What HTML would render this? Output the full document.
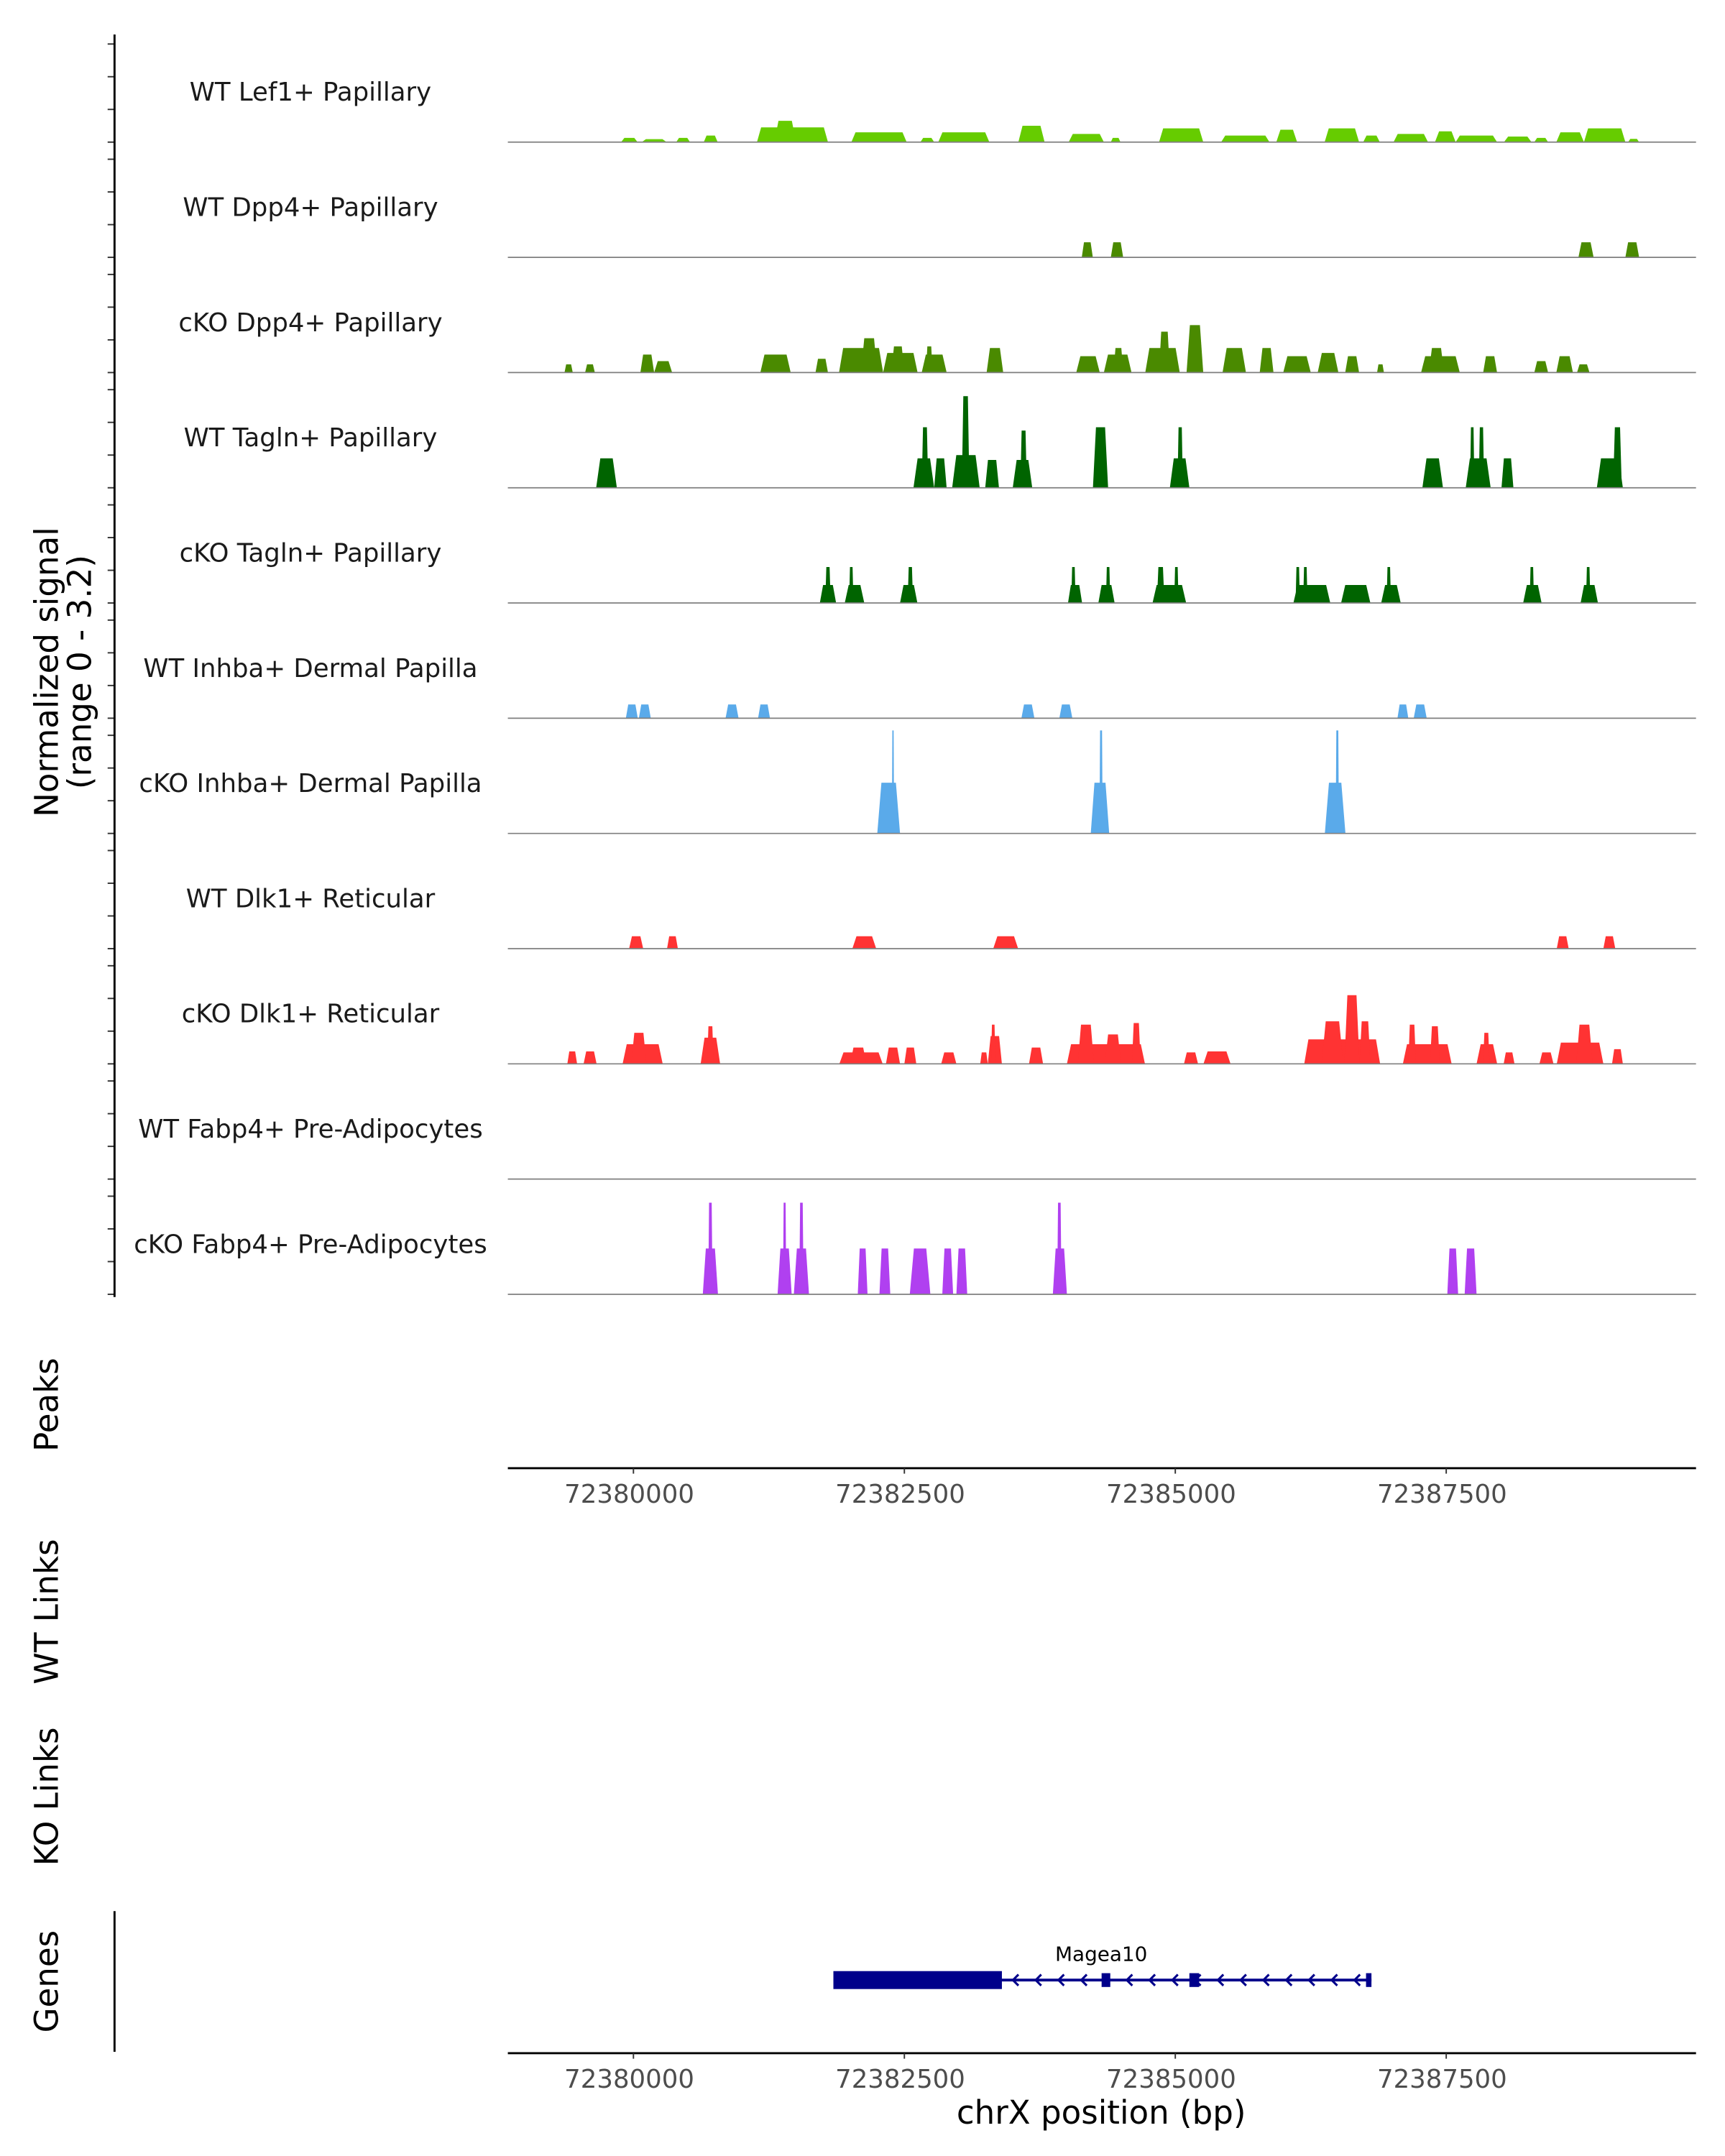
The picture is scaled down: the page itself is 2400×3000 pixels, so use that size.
<!DOCTYPE html>
<html><head><meta charset="utf-8"><style>html,body{margin:0;padding:0;background:#fff}svg{display:block}</style></head>
<body>
<svg id="chart" xmlns="http://www.w3.org/2000/svg" width="2400" height="3000" viewBox="0 0 1250 1562.5" font-family="'DejaVu Sans','Liberation Sans',sans-serif">
<rect width="1250" height="1562.5" fill="#fff"/>
<g id="tracks"></g>
<g id="axes"></g>
</svg>
<script>
const trackNames = ["WT Lef1+ Papillary","WT Dpp4+ Papillary","cKO Dpp4+ Papillary","WT Tagln+ Papillary","cKO Tagln+ Papillary","WT Inhba+ Dermal Papilla","cKO Inhba+ Dermal Papilla","WT Dlk1+ Reticular","cKO Dlk1+ Reticular","WT Fabp4+ Pre-Adipocytes","cKO Fabp4+ Pre-Adipocytes"];
const trackColors = ["#66cc00","#4a8a00","#4a8a00","#006400","#006400","#5aaaea","#5aaaea","#ff3333","#ff3333","#b040f0","#b040f0"];
const xTicks = [72380000,72382500,72385000,72387500];
const xDomain = [72378841,72389805];
const yMax = 3.2;
const sigLef1 = [[72379886,72380038,.13],[72380077,72380306,.09],[72380395,72380522,.13],[72380649,72380777,.2],[72381140,72381795,.45],[72381300,72381500,.65],[72382011,72382521,.3],[72382648,72382775,.13],[72382813,72383284,.3],[72383552,72383794,.5],[72384016,72384341,.25],[72384405,72384494,.13],[72384850,72385258,.42],[72385423,72385869,.2],[72385932,72386124,.38],[72386378,72386696,.42],[72386734,72386887,.2],[72387014,72387332,.25],[72387396,72387587,.33],[72387587,72387969,.2],[72388033,72388287,.17],[72388313,72388440,.13],[72388516,72388771,.3],[72388771,72389153,.42],[72389178,72389280,.1]];
const sigWtDpp4 = [[72384137,72384239,.46],[72384405,72384519,.46],[72388720,72388860,.46],[72389153,72389280,.46]];
const sigKoDpp4 = [[72379364,72379440,.25],[72379554,72379644,.25],[72380064,72380191,.55],[72380191,72380357,.35],[72381171,72381451,.55],[72381680,72381795,.42],[72381897,72382304,.75],[72382100,72382250,1.05],[72382304,72382622,.6],[72382380,72382500,.8],[72382660,72382890,.55],[72382700,72382760,.8],[72383259,72383412,.75],[72384086,72384303,.5],[72384341,72384596,.55],[72384430,72384520,.75],[72384723,72385041,.75],[72384850,72384950,1.25],[72385104,72385258,1.45],[72385436,72385652,.75],[72385779,72385906,.75],[72385996,72386250,.5],[72386314,72386505,.6],[72386568,72386696,.5],[72386862,72386925,.25],[72387268,72387625,.5],[72387340,72387480,.75],[72387841,72387969,.5],[72388313,72388440,.35],[72388516,72388669,.5],[72388707,72388822,.25]];
const sigWtTagln = [[72379656,72379847,.9],[72382584,72382775,.9],[72382660,72382720,1.85],[72382775,72382890,.9],[72382941,72383195,1.0],[72383030,72383100,2.8],[72383246,72383373,.85],[72383500,72383680,.85],[72383570,72383630,1.75],[72384240,72384380,1.85],[72384950,72385130,.9],[72385020,72385070,1.85],[72387280,72387470,.9],[72387680,72387910,.9],[72387720,72387760,1.85],[72387800,72387850,1.85],[72388010,72388120,.9],[72388890,72389130,.9],[72389040,72389120,1.85]];
const sigKoTagln = [[72381720,72381870,.55],[72381770,72381820,1.1],[72381950,72382130,.55],[72381990,72382030,1.1],[72382460,72382620,.55],[72382530,72382580,1.1],[72384010,72384140,.55],[72384040,72384080,1.1],[72384290,72384440,.55],[72384360,72384400,1.1],[72384790,72385100,.55],[72384830,72384900,1.1],[72384990,72385030,1.1],[72386090,72386430,.55],[72386110,72386150,1.1],[72386180,72386220,1.1],[72386530,72386800,.55],[72386900,72387080,.55],[72386950,72386990,1.1],[72388210,72388380,.55],[72388270,72388310,1.1],[72388740,72388900,.55],[72388790,72388830,1.1]];
const sigWtInhba = [[72379930,72380040,.42],[72380050,72380160,.42],[72380850,72380970,.42],[72381150,72381260,.42],[72383580,72383700,.42],[72383930,72384050,.42],[72387050,72387150,.42],[72387200,72387320,.42]];
const sigKoInhba = [[72382250,72382460,1.55],[72382385,72382405,3.15],[72384220,72384390,1.55],[72384300,72384330,3.15],[72386380,72386570,1.55],[72386480,72386510,3.15]];
const sigWtDlk1 = [[72379960,72380090,.38],[72380310,72380410,.38],[72382020,72382240,.38],[72383320,72383550,.38],[72388520,72388630,.38],[72388950,72389060,.38]];
const sigKoDlk1 = [[72379390,72379480,.38],[72379540,72379660,.38],[72379900,72380270,.6],[72379980,72380120,.95],[72380620,72380800,.8],[72380680,72380740,1.15],[72381900,72382300,.35],[72382000,72382150,.5],[72382330,72382460,.5],[72382500,72382610,.5],[72382840,72382980,.35],[72383200,72383270,.35],[72383270,72383400,.85],[72383300,72383340,1.2],[72383650,72383780,.5],[72384000,72384720,.6],[72384100,72384250,1.2],[72384350,72384500,.9],[72384600,72384680,1.25],[72385080,72385210,.35],[72385260,72385510,.38],[72386190,72386890,.75],[72386350,72386550,1.3],[72386560,72386700,2.1],[72386700,72386800,1.3],[72387100,72387550,.6],[72387150,72387220,1.2],[72387350,72387440,1.15],[72387780,72387970,.6],[72387840,72387900,.95],[72388030,72388130,.35],[72388360,72388490,.35],[72388520,72388950,.65],[72388700,72388850,1.2],[72389030,72389130,.45]];
const sigWtFabp4 = [];
const sigKoFabp4 = [[72380640,72380780,1.4],[72380690,72380730,2.8],[72381330,72381460,1.4],[72381380,72381410,2.8],[72381480,72381620,1.4],[72381530,72381570,2.8],[72382070,72382160,1.4],[72382270,72382370,1.4],[72382550,72382740,1.4],[72382850,72382950,1.4],[72382980,72383080,1.4],[72383870,72384000,1.4],[72383910,72383950,2.8],[72387510,72387610,1.4],[72387670,72387780,1.4]];
const geneName = "Magea10";
const geneStart = 72381845, geneEnd = 72386810;
const geneExons = [[72381845,72383400,13],[72384320,72384400,10],[72385130,72385220,10],[72386760,72386810,10]];

const signals = [sigLef1,sigWtDpp4,sigKoDpp4,sigWtTagln,sigKoTagln,sigWtInhba,sigKoInhba,sigWtDlk1,sigKoDlk1,sigWtFabp4,sigKoFabp4];
const X0 = 368, X1 = 1229;
const xs = v => X0 + (v - xDomain[0]) / (xDomain[1] - xDomain[0]) * (X1 - X0);
const trackH = 83.5, firstBase = 103;
const unitPx = 23.7;
const ys = (base, v) => base - v * unitPx;
const NS = "http://www.w3.org/2000/svg";
function mk(tag, attrs, parent){const e=document.createElementNS(NS,tag);for(const k in attrs)e.setAttribute(k,attrs[k]);parent.appendChild(e);return e;}
const tg = document.getElementById('tracks');
const ag = document.getElementById('axes');

signals.forEach((sig, i) => {
  const base = firstBase + i * trackH;
  const g = mk('g', {}, tg);
  
  
  const lab = mk('text', {x:225, y:base-30, 'text-anchor':'middle', 'font-size':18.5, fill:'#1a1a1a'}, g);
  lab.textContent = trackNames[i];
  
  
  sig.forEach(p => {
    const s = xs(p[0]), e = xs(p[1]), r = Math.min(3, (e - s) * 0.2), top = ys(base, p[2]);
    const poly = mk('polygon', {points:`${s},${base} ${s+r},${top} ${e-r},${top} ${e},${base}`, fill:trackColors[i]}, g);
    
    
  });
  const bl = mk('line', {x1:X0, x2:X1, y1:base, y2:base, stroke:'#7f7f7f', 'stroke-width':0.9}, g);
  
  
  for (let k = 0; k <= 3; k++) {
    const ty = ys(base, k);
    if (ty < 25) continue;
    const t = mk('line', {x1:78, x2:83, y1:ty, y2:ty, stroke:'#333', 'stroke-width':1}, ag);
    
    
  }
});
const yAx = mk('line', {x1:83, x2:83, y1:25, y2:940, stroke:'#000', 'stroke-width':1.5}, ag);


function vlabel(txt, x, y, name, size){
  const t = mk('text', {x:x, y:y, 'text-anchor':'middle', 'font-size':size||23.5, fill:'#000', transform:`rotate(-90 ${x} ${y})`}, ag);
  t.textContent = txt;
  
  
  return t;
}
vlabel('Normalized signal', 42, 487, 'y-axis-title');
vlabel('(range 0 - 3.2)', 66, 487, 'y-axis-subtitle');
vlabel('Peaks', 42, 1018, 'peaks-label');
vlabel('WT Links', 42, 1168, 'wt-links-label');
vlabel('KO Links', 42, 1302, 'ko-links-label');
vlabel('Genes', 42, 1436, 'genes-label');

function xAxis(y, name){
  const g = mk('g', {}, ag);
  
  
  mk('line', {x1:X0, x2:X1, y1:y, y2:y, stroke:'#000', 'stroke-width':1.5}, g);
  xTicks.forEach(v => {
    const l = mk('line', {x1:xs(v), x2:xs(v), y1:y, y2:y+4, stroke:'#333', 'stroke-width':1}, g);
    
    
    const t = mk('text', {x:xs(v)-3, y:y+25, 'text-anchor':'middle', 'font-size':18.5, fill:'#4d4d4d'}, g);
    t.textContent = v;
    
    
  });
}
xAxis(1064, 'peaks-x-axis');
xAxis(1488, 'genes-x-axis');
const gAx = mk('line', {x1:83, x2:83, y1:1385, y2:1487, stroke:'#000', 'stroke-width':1.5}, ag);


const xt = mk('text', {x:798, y:1539, 'text-anchor':'middle', 'font-size':23.5, fill:'#000'}, ag);
xt.textContent = 'chrX position (bp)';



// gene model
const gg = mk('g', {}, ag);


const gy = 1435;
mk('line', {x1:xs(geneStart), x2:xs(geneEnd), y1:gy, y2:gy, stroke:'#00008b', 'stroke-width':2}, gg);
for (let x = xs(geneExons[0][1]) + 8; x < xs(geneEnd) - 6; x += 16.5) {
  const c = mk('polyline', {points:`${x+4},${gy-4} ${x},${gy} ${x+4},${gy+4}`, fill:'none', stroke:'#00008b', 'stroke-width':1.6}, gg);
  
  
}
geneExons.forEach(ex => {
  const r = mk('rect', {x:xs(ex[0]), y:gy-ex[2]/2, width:Math.max(3, xs(ex[1])-xs(ex[0])), height:ex[2], fill:'#00008b'}, gg);
  
  
});
const gl = mk('text', {x:798, y:1421, 'text-anchor':'middle', 'font-size':14.5, fill:'#000'}, gg);
gl.textContent = geneName;


</script>
</body></html>
